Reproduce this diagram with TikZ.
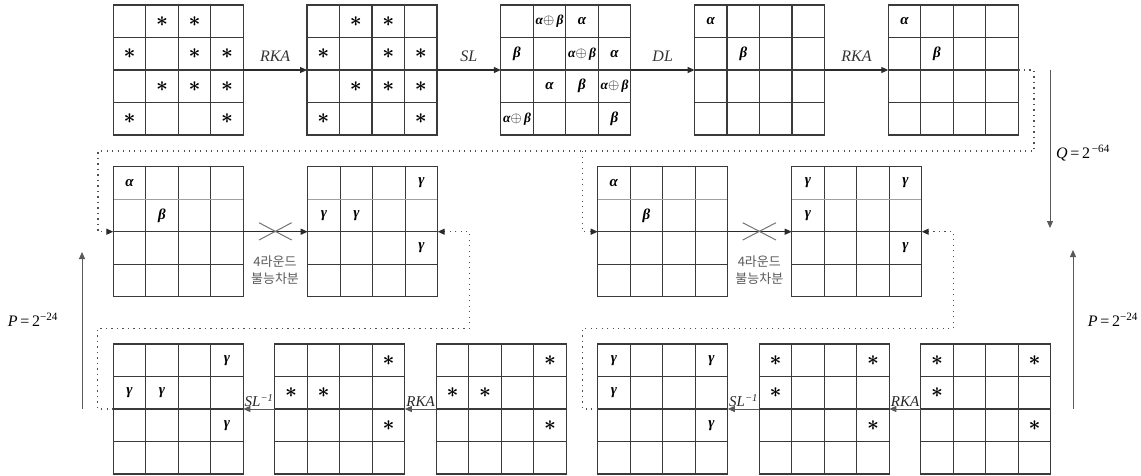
\documentclass[tikz,border=0pt]{standalone}
\usepackage{fontspec}
\setmainfont{Liberation Serif}
\newfontfamily\kor{Noto Sans CJK KR}
\usetikzlibrary{arrows.meta}
\definecolor{gridc}{HTML}{3A3A3A}
\definecolor{lightc}{HTML}{A0A0A0}
\definecolor{arrc}{HTML}{2A2A2A}
\definecolor{dotc}{HTML}{505050}
\newcommand\st{{\fontsize{21}{21}\selectfont\boldmath$\ast$}}
\newcommand\ga{\textbf{\textit{α}}}
\newcommand\gb{\textbf{\textit{β}}}
\newcommand\gc{\textbf{\textit{γ}}}
\newcommand\xo{{\fontsize{13.5}{13.5}\selectfont\ga$\oplus$\,\gb}}
\newcommand\putc[4]{\node[sym] (#1c#2#3) at ([shift={({#3*32.5+16.25},{#2*32.5+16.25})}]#1.north west) {#4};}
\tikzset{
  x=1pt,y=-1pt,
  gridbox/.style={draw=gridc, line width=1.3pt, minimum width=130pt, minimum height=130pt,
    inner sep=0pt, outer sep=0pt, anchor=north west,
    path picture={\foreach \k in {1,2,3}{
      \draw[gridc,line width=1.3pt] ([xshift=\k*32.5pt]path picture bounding box.north west) -- ([xshift=\k*32.5pt]path picture bounding box.south west);
      \draw[gridc,line width=1.3pt] ([yshift=-\k*32.5pt]path picture bounding box.north west) -- ([yshift=-\k*32.5pt]path picture bounding box.north east);}}},
  gridboxm/.style={draw=gridc, line width=1.3pt, minimum width=130pt, minimum height=130pt,
    inner sep=0pt, outer sep=0pt, anchor=north west,
    path picture={\foreach \k in {1,2,3}{
      \draw[gridc,line width=1.3pt] ([xshift=\k*32.5pt]path picture bounding box.north west) -- ([xshift=\k*32.5pt]path picture bounding box.south west);}
      \draw[lightc,line width=1.1pt] ([yshift=-32.5pt]path picture bounding box.north west) -- ([yshift=-32.5pt]path picture bounding box.north east);
      \foreach \k in {2,3}{
      \draw[gridc,line width=1.3pt] ([yshift=-\k*32.5pt]path picture bounding box.north west) -- ([yshift=-\k*32.5pt]path picture bounding box.north east);}}},
  sym/.style={inner sep=0pt, font=\fontsize{15}{15}\selectfont},
  lbl/.style={inner sep=1pt, font=\fontsize{16}{16}\selectfont\itshape, text=black!80},
  blbl/.style={inner sep=0pt, font=\fontsize{15}{15}\selectfont\itshape, text=black!85},
  arr/.style={draw=arrc, line width=1.1pt, -{Triangle[length=7pt,width=6pt]}},
  garr/.style={draw=black!65, line width=1pt, -{Triangle[length=7pt,width=6pt]}},
  dotl/.style={draw=dotc, line width=1.3pt, dash pattern=on 1.2pt off 4.3pt},
  dota/.style={dotl, -{Triangle[length=7pt,width=6pt,color=arrc]}},
  xc/.style={draw=black!55, line width=1pt},
  kortxt/.style={align=center, text=black!65, inner sep=0pt, font=\kor\fontsize{13}{17}\selectfont},
  eq/.style={inner sep=0pt, font=\fontsize{16}{16}\selectfont}
}
\begin{document}
\begin{tikzpicture}
\useasboundingbox (0,0) rectangle (1141,475);
% top row
\node[gridbox] (T1) at (113.3,5) {};
\node[gridbox] (T2) at (307.0,5) {};
\node[gridbox] (T3) at (500.8,5) {};
\node[gridbox] (T4) at (694.6,5) {};
\node[gridbox] (T5) at (888.3,5) {};
% middle row
\node[gridboxm] (M1) at (113.3,166.7) {};
\node[gridboxm] (M2) at (307.7,166.7) {};
\node[gridboxm] (M3) at (597.7,166.7) {};
\node[gridboxm] (M4) at (791.7,166.7) {};
% bottom row
\node[gridbox] (B1) at (113.3,344) {};
\node[gridbox] (B2) at (274.8,344) {};
\node[gridbox] (B3) at (436.3,344) {};
\node[gridbox] (B4) at (597.8,344) {};
\node[gridbox] (B5) at (759.3,344) {};
\node[gridbox] (B6) at (920.8,344) {};
% contents
\foreach \g in {T1,T2}{
  \putc{\g}{0}{1}{\st}\putc{\g}{0}{2}{\st}
  \putc{\g}{1}{0}{\st}\putc{\g}{1}{2}{\st}\putc{\g}{1}{3}{\st}
  \putc{\g}{2}{1}{\st}\putc{\g}{2}{2}{\st}\putc{\g}{2}{3}{\st}
  \putc{\g}{3}{0}{\st}\putc{\g}{3}{3}{\st}}
\putc{T3}{0}{1}{\xo}\putc{T3}{0}{2}{\ga}
\putc{T3}{1}{0}{\gb}\putc{T3}{1}{2}{\xo}\putc{T3}{1}{3}{\ga}
\putc{T3}{2}{1}{\ga}\putc{T3}{2}{2}{\gb}\putc{T3}{2}{3}{\xo}
\putc{T3}{3}{0}{\xo}\putc{T3}{3}{3}{\gb}
\foreach \g in {T4,T5,M1,M3}{\putc{\g}{0}{0}{\ga}\putc{\g}{1}{1}{\gb}}
\foreach \g in {M2,B1}{\putc{\g}{0}{3}{\gc}\putc{\g}{1}{0}{\gc}\putc{\g}{1}{1}{\gc}\putc{\g}{2}{3}{\gc}}
\foreach \g in {M4,B4}{\putc{\g}{0}{0}{\gc}\putc{\g}{0}{3}{\gc}\putc{\g}{1}{0}{\gc}\putc{\g}{2}{3}{\gc}}
\foreach \g in {B2,B3}{\putc{\g}{0}{3}{\st}\putc{\g}{1}{0}{\st}\putc{\g}{1}{1}{\st}\putc{\g}{2}{3}{\st}}
\foreach \g in {B5,B6}{\putc{\g}{0}{0}{\st}\putc{\g}{0}{3}{\st}\putc{\g}{1}{0}{\st}\putc{\g}{2}{3}{\st}}
% top arrows
\draw[arr] (T1.east) -- (T2.west) node[lbl,midway,above=7pt] (L1) {RKA};
\draw[arr] (T2.east) -- (T3.west) node[lbl,midway,above=7pt] (L2) {SL};
\draw[arr] (T3.east) -- (T4.west) node[lbl,midway,above=7pt] (L3) {DL};
\draw[arr] (T4.east) -- (T5.west) node[lbl,midway,above=7pt] (L4) {RKA};
% top dotted return
\coordinate (d1) at (1034,70);
\coordinate (d2) at (1034,151);
\coordinate (d3) at (98,151);
\coordinate (d4) at (98,231.7);
\coordinate (d5) at (582.3,151);
\coordinate (d6) at (582.3,231.7);
\draw[dota] (T5.east) -- (d1) -- (d2) -- (d3) -- (d4) -- (M1.west);
\draw[dota] (d5) -- (d6) -- (M3.west);
% Q arrow
\coordinate (q1) at (1050,70);
\coordinate (q2) at (1050,228);
\draw[garr] (q1) -- (q2);
\node[eq] (Q) at (1083,153) {\textit{Q}\,=\,2\textsuperscript{\,−64}};
% middle arrows
\draw[arr] (M1.east) -- (M2.west);
\draw[arr] (M3.east) -- (M4.west);
\draw[xc] (259,222.7) -- (291.7,240) (259,240) -- (291.7,222.7);
\draw[xc] (742.7,222.7) -- (776,240) (742.7,240) -- (776,222.7);
\node[kortxt] (K1) at (275,270.5) {4라운드\\불능차분};
\node[kortxt] (K2) at (759.3,270.5) {4라운드\\불능차분};
% bottom arrows
\draw[garr] (B3.west) -- (B2.east) node[blbl,midway,above=2pt] (L5) {RKA};
\draw[garr] (B2.west) -- (B1.east) node[blbl,midway,above=2pt] (L6) {SL\textsuperscript{−1}};
\draw[garr] (B6.west) -- (B5.east) node[blbl,midway,above=2pt] (L7) {RKA};
\draw[garr] (B5.west) -- (B4.east) node[blbl,midway,above=2pt] (L8) {SL\textsuperscript{−1}};
% bottom dotted returns
\coordinate (e1) at (97.7,409);
\coordinate (e2) at (97.7,328.3);
\coordinate (e3) at (469.3,328.3);
\coordinate (e4) at (469.3,231.7);
\draw[dota] (B1.west) -- (e1) -- (e2) -- (e3) -- (e4) -- (M2.east);
\coordinate (f1) at (582.3,409);
\coordinate (f2) at (582.3,328.3);
\coordinate (f3) at (953.5,328.3);
\coordinate (f4) at (953.5,231.7);
\draw[dota] (B4.west) -- (f1) -- (f2) -- (f3) -- (f4) -- (M4.east);
% P arrows
\coordinate (p1) at (82,409);
\coordinate (p2) at (82,252);
\draw[garr] (p1) -- (p2);
\node[eq] (P1) at (33,320) {\textit{P}\,=\,2\textsuperscript{−24}};
\coordinate (p3) at (1073,409);
\coordinate (p4) at (1073,250);
\draw[garr] (p3) -- (p4);
\node[eq] (P2) at (1113,320) {\textit{P}\,=\,2\textsuperscript{−24}};
\end{tikzpicture}
\end{document}
